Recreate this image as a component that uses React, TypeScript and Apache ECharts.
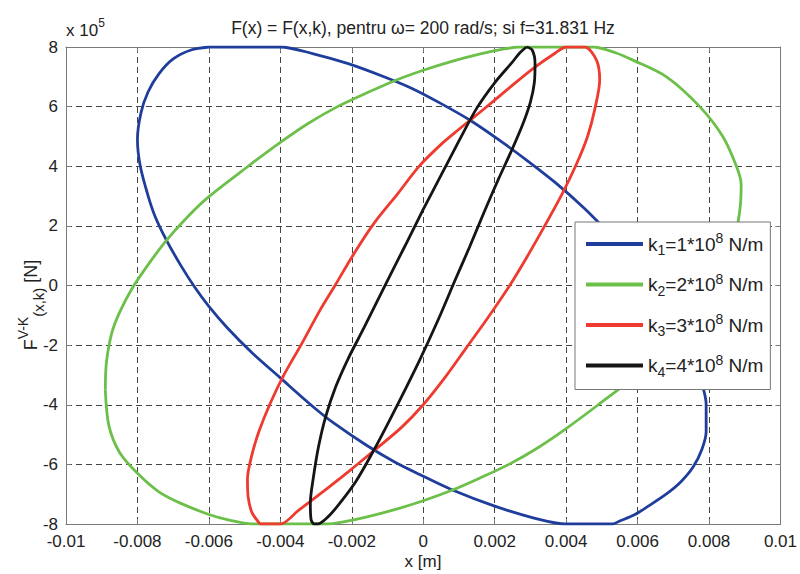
import React, { useEffect, useRef } from "react";
import * as echarts from "echarts";

const xTicks = [-0.01, -0.008, -0.006, -0.004, -0.002, 0, 0.002, 0.004, 0.006, 0.008, 0.01];
const xTickLabels = ["-0.01", "-0.008", "-0.006", "-0.004", "-0.002", "0", "0.002", "0.004", "0.006", "0.008", "0.01"];
const yTickLabels = ["-8", "-6", "-4", "-2", "0", "2", "4", "6", "8"];

const seriesNames = ["k1", "k2", "k3", "k4"];
const legendIndex = ["1", "2", "3", "4"];
const legendCoef = ["1", "2", "3", "4"];
const seriesColors = ["#1f3e9c", "#6cc04a", "#ee3a2f", "#151515"];

// k1 = 1e8 N/m (x [m], F [1e5 N])
const k1Loop = [
  [-0.006, 8.0], [-0.005, 8.0], [-0.004, 8.0], [-0.0031, 7.78], [-0.0021, 7.44],
  [-0.0011, 7.0], [-0.0003, 6.6], [0.0005, 6.1], [0.0013, 5.55], [0.0021, 4.9],
  [0.0029, 4.2], [0.0037, 3.45], [0.0045, 2.6], [0.0052, 1.75], [0.0058, 0.95],
  [0.0063, 0.15], [0.0068, -0.75], [0.0072, -1.6], [0.0075, -2.4], [0.0078, -3.3],
  [0.00792, -4.0], [0.00792, -4.9], [0.0078, -5.5], [0.00755, -6.1], [0.0072, -6.6],
  [0.0068, -7.0], [0.0063, -7.4], [0.0059, -7.7], [0.0055, -7.9], [0.0053, -8.0],
  [0.0047, -8.0], [0.004, -8.0], [0.0031, -7.8], [0.002, -7.4], [0.0008, -6.85],
  [-0.0001, -6.34], [-0.0008, -5.92], [-0.0016, -5.35], [-0.0025, -4.62], [-0.0031, -4.05],
  [-0.004, -3.1], [-0.0048, -2.25], [-0.0055, -1.4], [-0.006, -0.7], [-0.0064, -0.05],
  [-0.0068, 0.7], [-0.0072, 1.55], [-0.0075, 2.3], [-0.0077, 3.0], [-0.00792, 4.0],
  [-0.008, 4.9], [-0.0079, 5.8], [-0.0077, 6.5], [-0.0074, 7.1], [-0.007, 7.6],
  [-0.0065, 7.9], [-0.006, 8.0],
];

// k2 = 2e8 N/m
const k2Loop = [
  [-0.0089, -3.5], [-0.00887, -2.6], [-0.00872, -1.6], [-0.0085, -0.9], [-0.00815, -0.1],
  [-0.0077, 0.7], [-0.0072, 1.5], [-0.0066, 2.3], [-0.006, 2.98], [-0.0049, 4.0],
  [-0.004, 4.8], [-0.0032, 5.45], [-0.0024, 6.0], [-0.0016, 6.45], [-0.0008, 6.87],
  [0.0, 7.22], [0.0008, 7.52], [0.0016, 7.77], [0.0022, 7.92], [0.0027, 8.0],
  [0.0037, 8.0], [0.00476, 8.0], [0.0054, 7.8], [0.00587, 7.56], [0.00681, 7.0],
  [0.00774, 6.0], [0.00839, 4.99], [0.00877, 3.99], [0.0089, 3.4], [0.00887, 2.6],
  [0.00872, 1.6], [0.0085, 0.9], [0.00815, 0.1], [0.0077, -0.7], [0.0072, -1.5],
  [0.0066, -2.3], [0.006, -2.98], [0.0049, -4.0], [0.004, -4.8], [0.0032, -5.45],
  [0.0024, -6.0], [0.0016, -6.45], [0.0008, -6.87], [0.0, -7.22], [-0.0008, -7.52],
  [-0.0016, -7.77], [-0.0022, -7.92], [-0.0027, -8.0], [-0.0037, -8.0], [-0.0048, -8.0],
  [-0.0054, -7.88], [-0.006, -7.68], [-0.0068, -7.3], [-0.0074, -6.92], [-0.008, -6.3],
  [-0.0085, -5.6], [-0.0088, -4.7], [-0.0089, -3.5],
];

// k3 = 3e8 N/m
const k3Loop = [
  [-0.00457, -8.0], [-0.004, -8.0], [-0.0035, -7.55], [-0.00295, -7.05], [-0.0021, -6.25],
  [-0.00135, -5.51], [-0.0006, -4.75], [0.0, -4.0], [0.0006, -3.1], [0.0012, -2.1],
  [0.0018, -1.1], [0.00242, 0.0], [0.0029, 0.95], [0.0034, 2.0], [0.0039, 3.1],
  [0.0043, 4.1], [0.0046, 5.0], [0.0048, 5.9], [0.00494, 6.9], [0.00485, 7.56],
  [0.00452, 8.0], [0.004, 8.0], [0.0037, 7.8], [0.0031, 7.3], [0.0024, 6.62],
  [0.0017, 5.92], [0.001, 5.24], [0.00056, 4.8], [-0.0001, 4.02], [-0.0007, 3.1],
  [-0.0014, 2.05], [-0.002, 0.95], [-0.00247, 0.0], [-0.0029, -0.85], [-0.0034, -1.95],
  [-0.0039, -3.0], [-0.0043, -4.0], [-0.0046, -4.9], [-0.0048, -5.7], [-0.00492, -6.5],
  [-0.0049, -7.1], [-0.0048, -7.6], [-0.00457, -8.0],
];

// k4 = 4e8 N/m
const k4Loop = [
  [0.00289, 8.0], [0.00305, 7.9], [0.00313, 7.45], [0.00311, 6.8], [0.003, 6.15],
  [0.0028, 5.45], [0.0025, 4.6], [0.0021, 3.55], [0.0017, 2.45], [0.0013, 1.3],
  [0.0009, 0.2], [0.0004, -1.2], [-0.0001, -2.5], [-0.0007, -3.95], [-0.00135, -5.45],
  [-0.0019, -6.6], [-0.0024, -7.4], [-0.0027, -7.8], [-0.00295, -8.0], [-0.00305, -8.0],
  [-0.00314, -7.85], [-0.00316, -7.3], [-0.00307, -6.4], [-0.00293, -5.4], [-0.00273, -4.4],
  [-0.00245, -3.4], [-0.0021, -2.45], [-0.00165, -1.4], [-0.00105, 0.05], [-0.0005, 1.35],
  [0.0, 2.55], [0.0005, 3.7], [0.001, 4.85], [0.0015, 5.95], [0.002, 6.8],
  [0.0025, 7.5], [0.0027, 7.8], [0.00289, 8.0],
];

const loops = [k1Loop, k2Loop, k3Loop, k4Loop];

const FONT = "'Liberation Sans', Arial, sans-serif";

function xLabel(v: number): string {
  const i = xTicks.findIndex((t) => Math.abs(t - v) < 1e-9);
  return i >= 0 ? xTickLabels[i] : String(v);
}
function yLabel(v: number): string {
  const i = Math.round((v + 8) / 2);
  return yTickLabels[i] ?? String(v);
}

const gridStyle = { type: [6, 4] as number[], color: "#444444", width: 1 };
const axisLineStyle = { color: "#7a7a7a", width: 1 };
const tickStyle = { color: "#7a7a7a", width: 1 };

export default function App() {
  const ref = useRef<HTMLDivElement>(null);
  useEffect(() => {
    const chart = echarts.init(ref.current!, null, { renderer: "svg" });
    const option: any = {
      animation: false,
      backgroundColor: "#ffffff",
      textStyle: { fontFamily: FONT },
      grid: { left: 66, right: 19, top: 47, bottom: 50, show: false },
      xAxis: [
        {
          type: "value", min: -0.01, max: 0.01, interval: 0.002, position: "bottom",
          axisLine: { show: true, onZero: false, lineStyle: axisLineStyle },
          axisTick: { show: true, inside: true, length: 5, lineStyle: tickStyle },
          axisLabel: { fontSize: 17, color: "#222", margin: 9, fontFamily: FONT, formatter: xLabel },
          splitLine: { show: true, lineStyle: gridStyle },
        },
        {
          type: "value", min: -0.01, max: 0.01, interval: 0.002, position: "top",
          axisLine: { show: true, onZero: false, lineStyle: axisLineStyle },
          axisTick: { show: true, inside: true, length: 5, lineStyle: tickStyle },
          axisLabel: { show: false },
          splitLine: { show: false },
        },
      ],
      yAxis: [
        {
          type: "value", min: -8, max: 8, interval: 2, position: "left",
          axisLine: { show: true, onZero: false, lineStyle: axisLineStyle },
          axisTick: { show: true, inside: true, length: 5, lineStyle: tickStyle },
          axisLabel: { fontSize: 17, color: "#222", margin: 8, fontFamily: FONT, formatter: yLabel },
          splitLine: { show: true, lineStyle: gridStyle },
        },
        {
          type: "value", min: -8, max: 8, interval: 2, position: "right",
          axisLine: { show: true, onZero: false, lineStyle: axisLineStyle },
          axisTick: { show: true, inside: true, length: 5, lineStyle: tickStyle },
          axisLabel: { show: false },
          splitLine: { show: false },
        },
      ],
      legend: {
        orient: "vertical",
        left: 575,
        top: 222,
        backgroundColor: "#ffffff",
        borderColor: "#777777",
        borderWidth: 1,
        padding: [9, 7, 11, 11],
        itemGap: 14.5,
        itemWidth: 57,
        itemHeight: 4,
        icon: "rect",
        data: seriesNames,
        formatter: (name: string) => {
          const i = seriesNames.indexOf(name);
          return `{k|k}{sub|${legendIndex[i]}}{k|=${legendCoef[i]}*10}{sup|8}{k| N/m}`;
        },
        textStyle: {
          fontFamily: FONT,
          color: "#222",
          rich: {
            k: { fontSize: 19, lineHeight: 26, verticalAlign: "middle", fontFamily: FONT, color: "#222" },
            sub: { fontSize: 14, lineHeight: 12, verticalAlign: "bottom", fontFamily: FONT, color: "#222" },
            sup: { fontSize: 14, lineHeight: 14, verticalAlign: "top", fontFamily: FONT, color: "#222" },
          },
        },
      },
      series: seriesNames.map((n, i) => ({
        name: n,
        type: "line",
        data: loops[i],
        xAxisIndex: 0,
        yAxisIndex: 0,
        showSymbol: false,
        symbol: "none",
        smooth: 0.3,
        clip: true,
        color: seriesColors[i],
        lineStyle: { color: seriesColors[i], width: 2.8 },
        z: 2,
      })),
      graphic: [
        {
          type: "text", x: 423, y: 28,
          style: {
            text: "F(x) = F(x,k), pentru ω= 200 rad/s; si f=31.831 Hz",
            font: `17.5px ${FONT}`, fill: "#222", textAlign: "center", textVerticalAlign: "middle",
          },
        },
        {
          type: "text", x: 66, y: 30,
          style: {
            text: "{a|x 10}{s|5}",
            textAlign: "left", textVerticalAlign: "middle",
            rich: {
              a: { fontSize: 17, lineHeight: 26, verticalAlign: "middle", fontFamily: FONT, fill: "#222" },
              s: { fontSize: 12, lineHeight: 12, verticalAlign: "top", fontFamily: FONT, fill: "#222" },
            },
          },
        },
        {
          type: "text", x: 423, y: 561,
          style: {
            text: "x [m]", font: `17px ${FONT}`, fill: "#222",
            textAlign: "center", textVerticalAlign: "middle",
          },
        },
        {
          type: "text", x: 31, y: 305, rotation: Math.PI / 2,
          style: {
            text: "{b|F}{p|V-K}{d|(x,k)}{b| [N]}",
            textAlign: "center", textVerticalAlign: "middle",
            rich: {
              b: { fontSize: 18, lineHeight: 30, verticalAlign: "middle", fontFamily: FONT, fill: "#222" },
              p: { fontSize: 14, lineHeight: 16, verticalAlign: "top", fontFamily: FONT, fill: "#222" },
              d: { fontSize: 15, lineHeight: 16, verticalAlign: "bottom", fontFamily: FONT, fill: "#222" },
            },
          },
        },
      ],
    };
    chart.setOption(option);
    return () => chart.dispose();
  }, []);
  return (
    <div
      ref={ref}
      style={{ position: "fixed", left: 0, top: 0, width: 800, height: 574, background: "#fff" }}
    />
  );
}
